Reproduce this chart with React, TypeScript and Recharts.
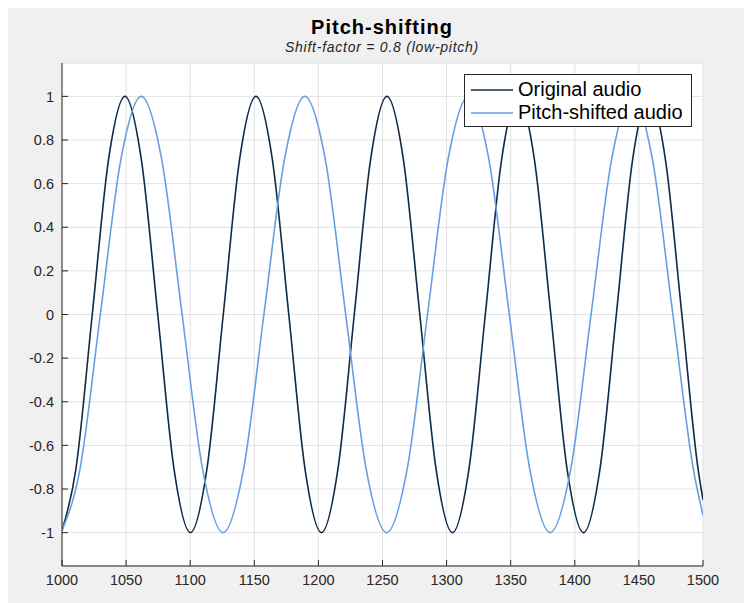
import React from "react";
import { LineChart, Line, XAxis, YAxis, CartesianGrid, Legend } from "recharts";

// Values
const xTicks = [1000, 1050, 1100, 1150, 1200, 1250, 1300, 1350, 1400, 1450, 1500];
const yTicks = [-1, -0.8, -0.6, -0.4, -0.2, 0, 0.2, 0.4, 0.6, 0.8, 1];

const originalX = [
  1000, 1010.8, 1023.6, 1036.3, 1049.1, 1061.9, 1074.7, 1087.4, 1100.2, 1113.0,
  1125.8, 1138.5, 1151.3, 1164.1, 1176.9, 1189.6, 1202.4, 1215.2, 1228.0, 1240.7,
  1253.5, 1266.3, 1279.1, 1291.8, 1304.6, 1317.4, 1330.2, 1342.9, 1355.7, 1368.5,
  1381.3, 1394.0, 1406.8, 1419.6, 1432.4, 1445.1, 1457.9, 1470.7, 1483.5, 1496.2, 1500,
];
const originalY = [
  -0.99, -0.71, 0, 0.71, 1, 0.71, 0, -0.71, -1, -0.71,
  0, 0.71, 1, 0.71, 0, -0.71, -1, -0.71, 0, 0.71,
  1, 0.71, 0, -0.71, -1, -0.71, 0, 0.71, 1, 0.71,
  0, -0.71, -1, -0.71, 0, 0.71, 1, 0.71, 0, -0.71, -0.85,
];

const shiftedX = [
  1000, 1014.0, 1029.9, 1045.9, 1061.8, 1077.8, 1093.7, 1109.7, 1125.6, 1141.6,
  1157.5, 1173.5, 1189.4, 1205.4, 1221.3, 1237.3, 1253.2, 1269.2, 1285.1, 1301.1,
  1317.0, 1333.0, 1348.9, 1364.9, 1380.8, 1396.8, 1412.7, 1428.7, 1444.6, 1460.6,
  1476.5, 1492.5, 1500,
];
const shiftedY = [
  -0.99, -0.71, 0, 0.71, 1, 0.71, 0, -0.71, -1, -0.71,
  0, 0.71, 1, 0.71, 0, -0.71, -1, -0.71, 0, 0.71,
  1, 0.71, 0, -0.71, -1, -0.71, 0, 0.71, 1, 0.71,
  0, -0.71, -0.92,
];

const originalData = originalX.map((x, i) => ({ x, y: originalY[i] }));
const shiftedData = shiftedX.map((x, i) => ({ x, y: shiftedY[i] }));

const FONT = '"Liberation Sans", Arial, Helvetica, sans-serif';
const AXIS = "#262626";
const TICK_LEN = 6;
const X_MARGIN = 9;
const Y_MARGIN = 8;

const BottomTick = (props: any) => {
  const { x, y, payload } = props;
  const ay = y - X_MARGIN;
  return (
    <g>
      <line x1={x} x2={x} y1={ay} y2={ay - TICK_LEN} stroke={AXIS} strokeWidth={1} />
      <text x={x} y={y} dy="0.71em" textAnchor="middle" fill={AXIS} fontSize={14.5} fontFamily={FONT}>
        {payload.value}
      </text>
    </g>
  );
};

const LeftTick = (props: any) => {
  const { x, y, payload } = props;
  const ax = x + Y_MARGIN;
  return (
    <g>
      <line x1={ax} x2={ax + TICK_LEN} y1={y} y2={y} stroke={AXIS} strokeWidth={1} />
      <text x={x} y={y} dy="0.355em" textAnchor="end" fill={AXIS} fontSize={14.5} fontFamily={FONT}>
        {String(payload.value)}
      </text>
    </g>
  );
};

const TopTick = (props: any) => {
  const { x, y } = props;
  return <line x1={x} x2={x} y1={y} y2={y + TICK_LEN} stroke={AXIS} strokeWidth={1} />;
};

const RightTick = (props: any) => {
  const { x, y } = props;
  return <line x1={x} x2={x - TICK_LEN} y1={y} y2={y} stroke={AXIS} strokeWidth={1} />;
};

const renderLegend = (props: any) => {
  const { payload } = props;
  return (
    <div
      style={{
        background: "#fff",
        border: "1px solid #262626",
        boxSizing: "border-box",
        width: 228,
        height: 53,
        padding: "3px 0 0 0",
        fontFamily: FONT,
        fontSize: 20,
        color: "#000",
      }}
    >
      {payload.map((entry: any) => (
        <div key={entry.value} style={{ display: "flex", alignItems: "center", height: 23 }}>
          <svg width={53} height={23}>
            <line x1={6} x2={48} y1={12} y2={12} stroke={entry.color} strokeWidth={1.6} />
          </svg>
          <span style={{ lineHeight: "23px", whiteSpace: "nowrap" }}>{entry.value}</span>
        </div>
      ))}
    </div>
  );
};

export default function App() {
  return (
    <div style={{ position: "relative", width: 744, height: 595, background: "#f0f0f0" }}>
      <svg
        width={744}
        height={60}
        style={{ position: "absolute", left: 0, top: 0, pointerEvents: "none" }}
      >
        <text
          x={374}
          y={26}
          textAnchor="middle"
          fontFamily={FONT}
          fontWeight="bold"
          fontSize={20}
          letterSpacing={1}
          fill="#000"
        >
          Pitch-shifting
        </text>
        <text
          x={374}
          y={44}
          textAnchor="middle"
          fontFamily={FONT}
          fontStyle="italic"
          fontSize={14}
          letterSpacing={0.75}
          fill="#262626"
        >
          Shift-factor = 0.8 (low-pitch)
        </text>
      </svg>
      <div style={{ position: "absolute", left: 0, top: 0 }}>
        <LineChart width={744} height={595} margin={{ top: 55, right: 49, bottom: 0, left: 0 }}>
          <CartesianGrid stroke="#e2e2e2" fill="#ffffff" />
          <XAxis
            xAxisId={0}
            type="number"
            dataKey="x"
            domain={[1000, 1500]}
            ticks={xTicks}
            allowDataOverflow
            height={37}
            tickSize={0}
            tickMargin={X_MARGIN}
            tick={<BottomTick />}
            axisLine={{ stroke: AXIS }}
          />
          <XAxis
            xAxisId="top"
            orientation="top"
            type="number"
            dataKey="x"
            domain={[1000, 1500]}
            ticks={xTicks}
            allowDataOverflow
            height={0}
            tickSize={0}
            tickMargin={0}
            tick={<TopTick />}
            axisLine={{ stroke: AXIS }}
          />
          <YAxis
            yAxisId={0}
            type="number"
            domain={[-1.153, 1.153]}
            ticks={yTicks}
            allowDataOverflow
            width={54}
            tickSize={0}
            tickMargin={Y_MARGIN}
            tick={<LeftTick />}
            axisLine={{ stroke: AXIS }}
          />
          <YAxis
            yAxisId="right"
            orientation="right"
            type="number"
            domain={[-1.153, 1.153]}
            ticks={yTicks}
            allowDataOverflow
            width={0}
            tickSize={0}
            tickMargin={0}
            tick={<RightTick />}
            axisLine={{ stroke: AXIS }}
          />
          <Legend
            layout="vertical"
            align="center"
            verticalAlign="middle"
            content={renderLegend}
            wrapperStyle={{ top: 66, left: 456, width: 228, height: 53 }}
          />
          <Line
            xAxisId={0}
            yAxisId={0}
            data={originalData}
            dataKey="y"
            name="Original audio"
            type="monotone"
            stroke="#102a47"
            strokeWidth={1.6}
            dot={false}
            isAnimationActive={false}
          />
          <Line
            xAxisId={0}
            yAxisId={0}
            data={shiftedData}
            dataKey="y"
            name="Pitch-shifted audio"
            type="monotone"
            stroke="#679fe2"
            strokeWidth={1.6}
            dot={false}
            isAnimationActive={false}
          />
        </LineChart>
      </div>
    </div>
  );
}
